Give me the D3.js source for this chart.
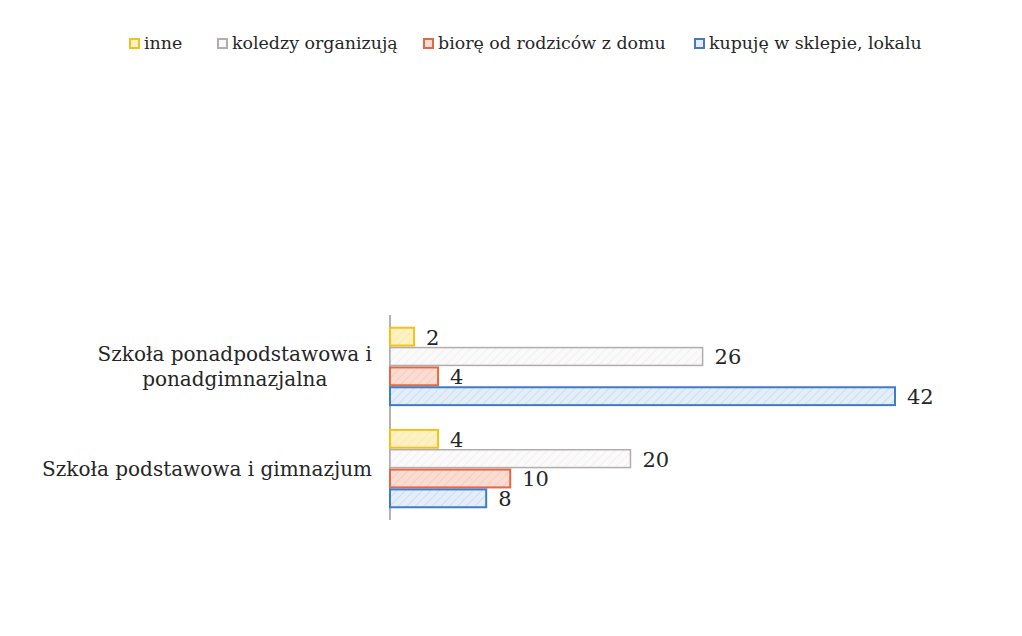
<!DOCTYPE html>
<html>
<head>
<meta charset="utf-8">
<script src="https://cdn.jsdelivr.net/npm/d3@7"></script>
<style>
  body { margin: 0; background: #fff; }
  svg text { font-family: "DejaVu Serif", "Liberation Serif", serif; fill: #262626; }
</style>
</head>
<body>
<div id="vis"></div>
<script>
var width = 1022;
var height = 636;

// data
var categories = [
  ["Szkoła ponadpodstawowa i", "ponadgimnazjalna"],
  ["Szkoła podstawowa i gimnazjum"]
];
var seriesNames = ["inne", "koledzy organizują", "biorę od rodziców z domu", "kupuję w sklepie, lokalu"];
var seriesStroke = ["#efc21c", "#b4adb0", "#df6a45", "#3f7bc9"];
var seriesFill = ["#fcf1c2", "#fbfafb", "#fadcd2", "#e3eef9"];
var valuesUpper = [2, 26, 4, 42];
var valuesLower = [4, 20, 10, 8];
var values = [valuesUpper, valuesLower];

var svg = d3.select('#vis').append('svg')
  .attr('width', width)
  .attr('height', height);

// hatch patterns for the scanned-look fills
var defs = svg.append('defs');
seriesNames.forEach(function (s, i) {
  var p = defs.append('pattern')
    .attr('id', 'hatch' + i)
    .attr('patternUnits', 'userSpaceOnUse')
    .attr('width', 6).attr('height', 6)
    .attr('patternTransform', 'rotate(45)');
  p.append('rect').attr('width', 6).attr('height', 6).attr('fill', seriesFill[i]);
  p.append('line').attr('x1', 0).attr('y1', 0).attr('x2', 0).attr('y2', 6)
    .attr('stroke', seriesStroke[i]).attr('stroke-opacity', 0.18).attr('stroke-width', 1.5);
});

var x0 = 390;
var x = d3.scaleLinear().domain([0, 42]).range([0, 505]);

var catIdx = d3.range(categories.length);
var y0 = d3.scaleBand().domain(catIdx).range([315.5, 519.5]).paddingInner(0.223).paddingOuter(0.11);
var y1 = d3.scaleBand().domain(d3.range(seriesNames.length)).range([0, y0.bandwidth()]);

// category axis line
svg.append('line')
  .attr('x1', x0).attr('x2', x0)
  .attr('y1', 315).attr('y2', 520)
  .attr('stroke', '#999').attr('stroke-width', 1.5);

var groups = svg.selectAll('g.cat')
  .data(catIdx)
  .enter().append('g')
  .attr('class', 'cat')
  .attr('transform', function (d) { return 'translate(' + x0 + ',' + y0(d) + ')'; });

groups.selectAll('rect')
  .data(function (d) { return values[d].map(function (v, i) { return { v: v, i: i }; }); })
  .enter().append('rect')
  .attr('x', 0)
  .attr('y', function (d) { return y1(d.i) + 1; })
  .attr('width', function (d) { return x(d.v); })
  .attr('height', y1.bandwidth() - 2)
  .attr('fill', function (d) { return 'url(#hatch' + d.i + ')'; })
  .attr('stroke', function (d) { return seriesStroke[d.i]; })
  .attr('stroke-width', function (d) { return d.i === 1 ? 1.5 : 2; });

groups.selectAll('text.val')
  .data(function (d) { return values[d].map(function (v, i) { return { v: v, i: i }; }); })
  .enter().append('text')
  .attr('class', 'val')
  .attr('x', function (d) { return x(d.v) + 12; })
  .attr('y', function (d) { return y1(d.i) + y1.bandwidth() / 2 + 8; })
  .attr('font-size', 21)
  .text(function (d) { return d.v; });

// category labels
var labels = svg.selectAll('text.cat')
  .data(catIdx)
  .enter().append('text')
  .attr('class', 'cat')
  .attr('font-size', 20)
  .attr('text-anchor', 'middle');

labels.each(function (d) {
  var t = d3.select(this);
  var lines = categories[d];
  var cy = y0(d) + y0.bandwidth() / 2;
  lines.forEach(function (l, k) {
    t.append('tspan').attr('x', 0).attr('y', cy - (lines.length - 1) * 12.5 + k * 25 + 7).text(l);
  });
});
// right-align the block, centre the lines inside it
labels.each(function () {
  var t = d3.select(this);
  var w = this.getBBox().width;
  t.selectAll('tspan').attr('x', 372 - w / 2);
});

// legend
var legendX = [130, 218, 424, 695];
var legend = svg.selectAll('g.legend')
  .data(seriesNames)
  .enter().append('g')
  .attr('class', 'legend')
  .attr('transform', function (d, i) { return 'translate(' + legendX[i] + ',39)'; });

legend.append('rect')
  .attr('width', 9).attr('height', 9)
  .attr('fill', function (d, i) { return seriesFill[i]; })
  .attr('stroke', function (d, i) { return seriesStroke[i]; })
  .attr('stroke-width', 2);

legend.append('text')
  .attr('x', 14).attr('y', 10)
  .attr('font-size', 17.4)
  .text(function (d) { return d; });
</script>
</body>
</html>
